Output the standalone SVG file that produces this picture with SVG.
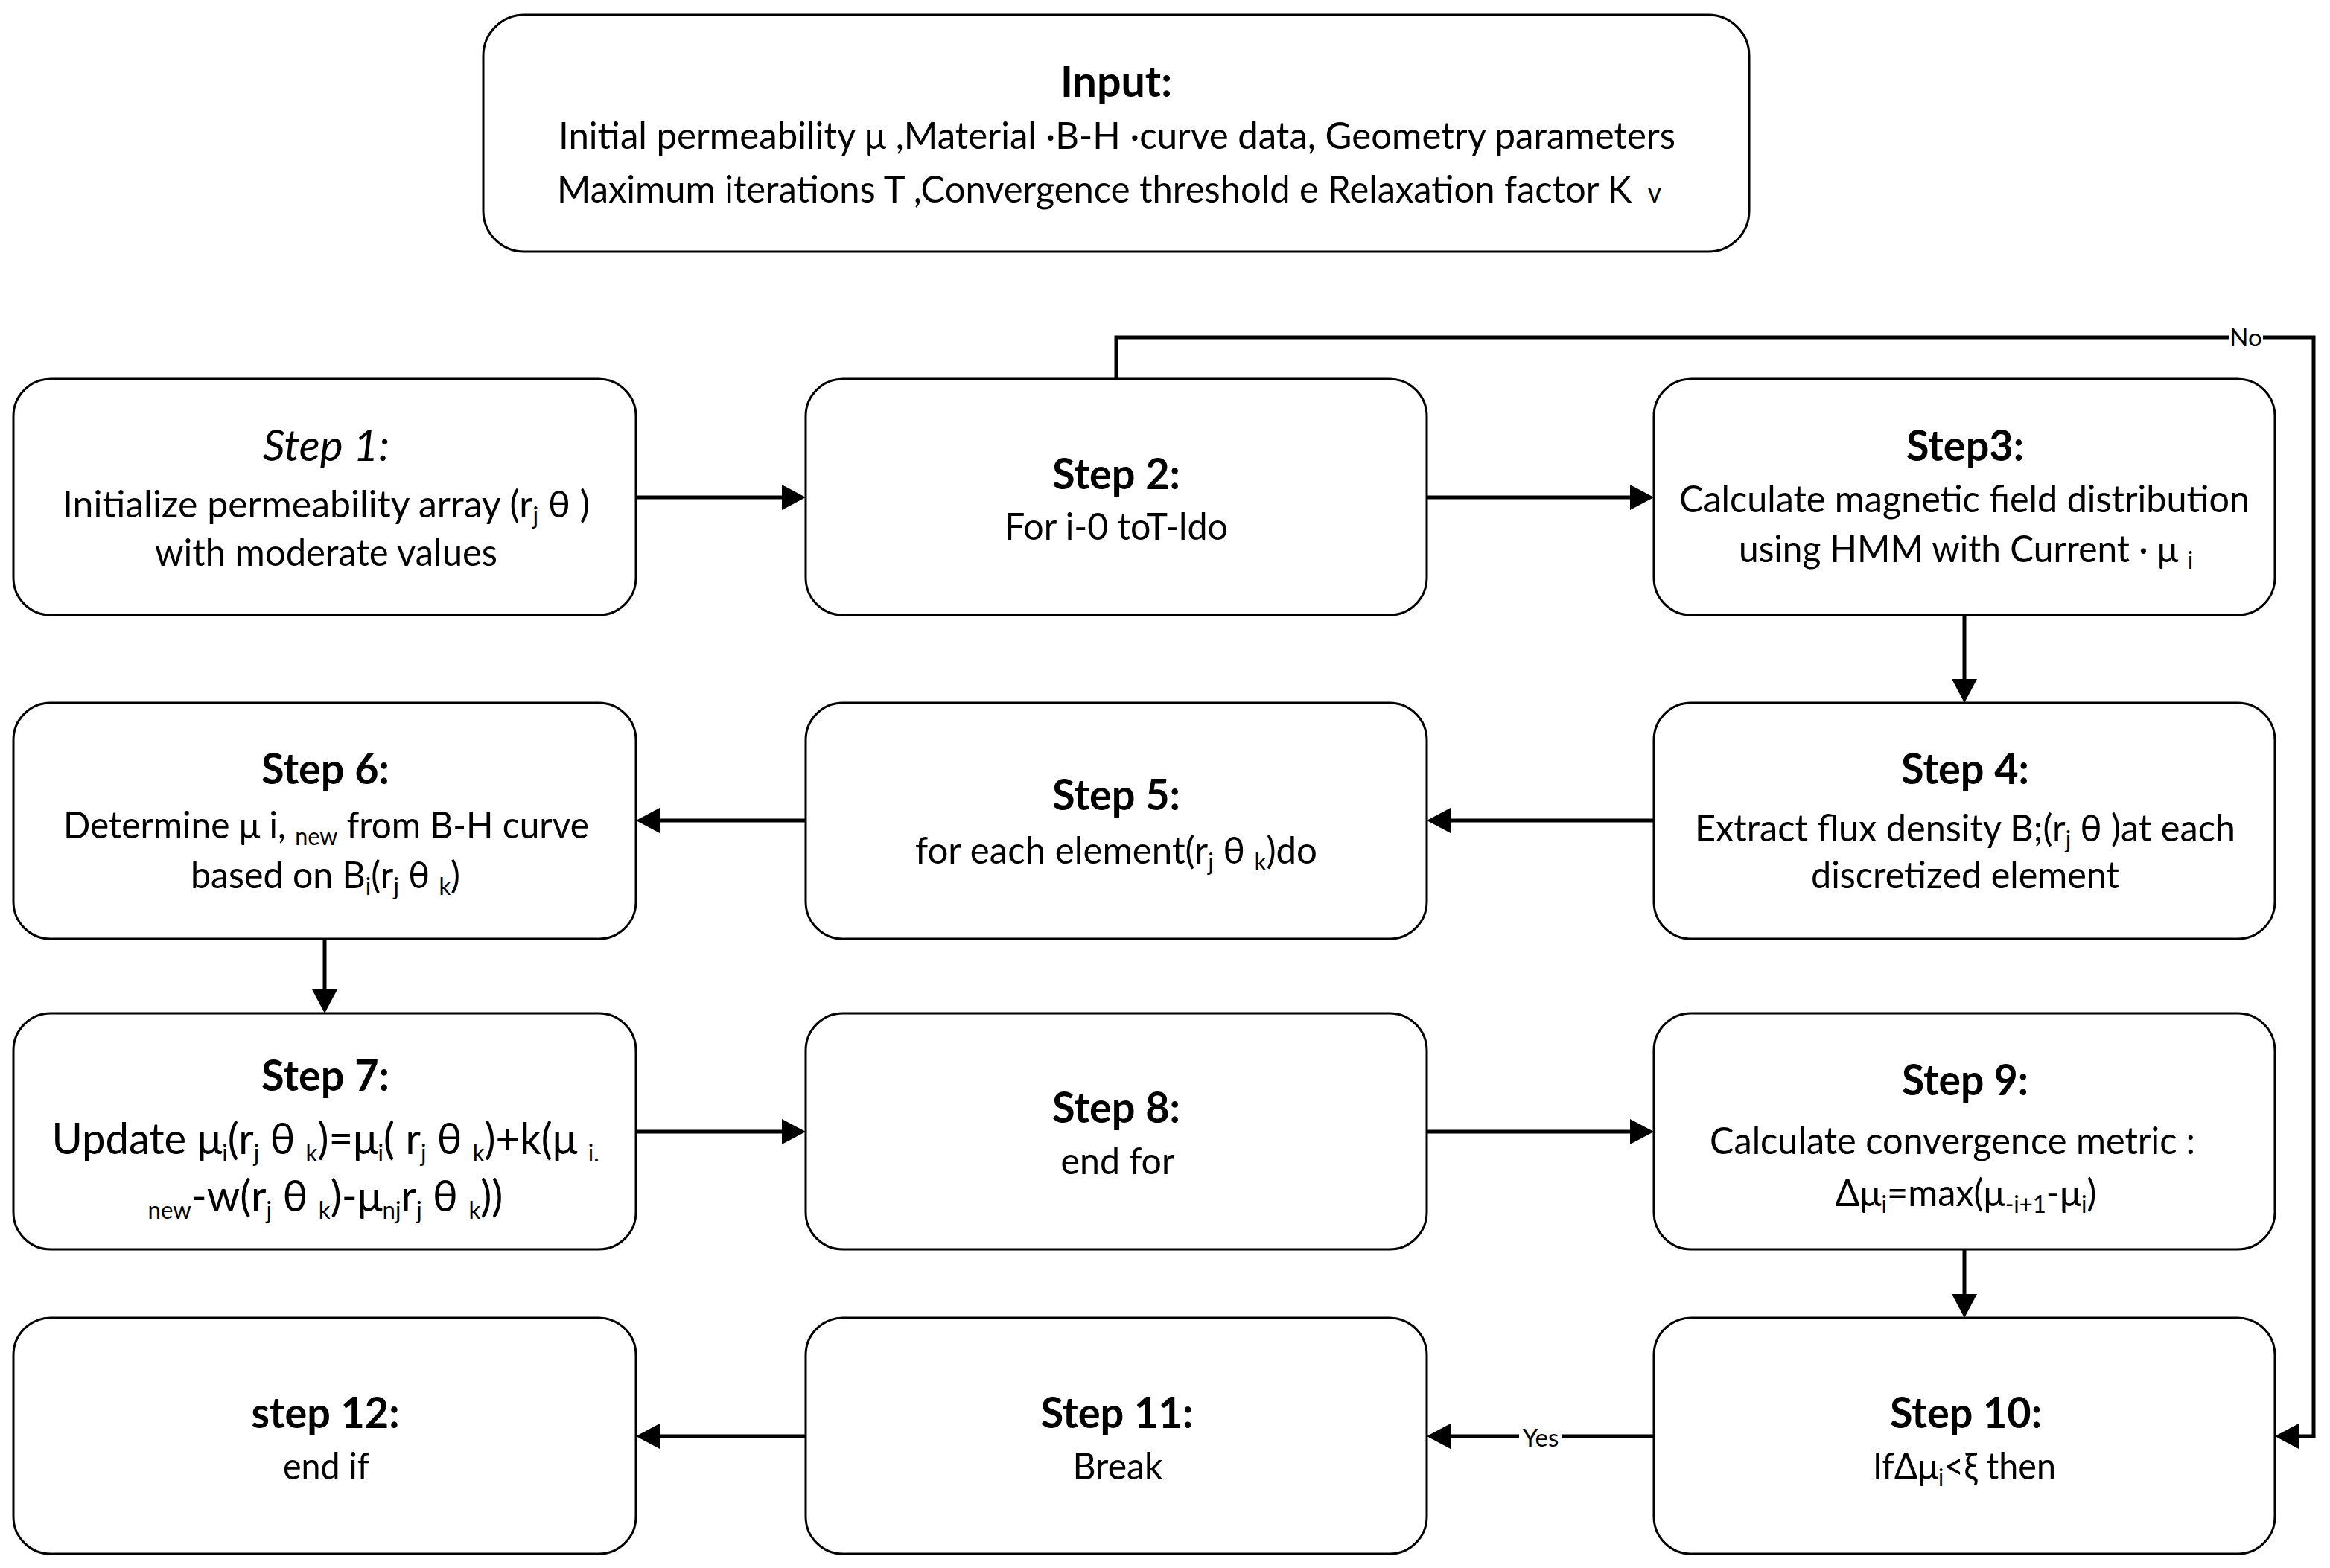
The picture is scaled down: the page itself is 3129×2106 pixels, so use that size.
<svg xmlns="http://www.w3.org/2000/svg" width="3129" height="2106" viewBox="0 0 3129 2106">
<style>
.box{fill:#fff;stroke:#000;stroke-width:3}
text{font-family:Lato,"Liberation Sans",sans-serif;fill:#000;text-anchor:middle}
.t{font-size:58px;font-weight:700}
.ti{font-size:58px;font-style:italic}
.b{font-size:50px}
.bb{font-size:58px}
.s{font-size:32px}
.lbl{font-size:33px}
.conn{fill:none;stroke:#000;stroke-width:5;marker-end:url(#ah)}
.lblbg{fill:#fff}
</style>
<defs>
<marker id="ah" markerUnits="userSpaceOnUse" markerWidth="34" markerHeight="36" refX="21" refY="17" orient="auto">
<path d="M0,0 L32,17 L0,34 Z" fill="#000"/>
</marker>
</defs>
<rect width="3129" height="2106" fill="#fff"/>

<g id="connectors">
<path class="conn" d="M854,668 H1071"/>
<path class="conn" d="M1916,668 H2210"/>
<path class="conn" d="M2638,826 V933"/>
<path class="conn" d="M2221,1102 H1927"/>
<path class="conn" d="M1082,1102 H865"/>
<path class="conn" d="M436,1261 V1350"/>
<path class="conn" d="M854,1520 H1071"/>
<path class="conn" d="M1916,1520 H2210"/>
<path class="conn" d="M2638,1678 V1759"/>
<path class="conn" d="M2221,1929 H1927"/>
<path class="conn" d="M1082,1929 H865"/>
<path class="conn" d="M1499,509 V453 H3107 V1929 H3066"/>
<rect class="lblbg" x="2993" y="436" width="46" height="34"/>
<text class="lbl" x="3016" y="465">No</text>
<rect class="lblbg" x="2040" y="1912" width="58" height="36"/>
<text class="lbl" x="2069" y="1943">Yes</text>
</g>

<g id="input">
<rect class="box" x="649" y="20" width="1700" height="318" rx="55"/>
<text class="t" x="1499" y="130" textLength="150" lengthAdjust="spacingAndGlyphs">Input:</text>
<text class="b" x="1500" y="200" textLength="1500" lengthAdjust="spacingAndGlyphs">Initial permeability μ ,Material ·B-H ·curve data, Geometry parameters</text>
<text class="b" x="748" y="272" style="text-anchor:start" textLength="1483" lengthAdjust="spacingAndGlyphs">Maximum iterations T ,Convergence threshold e Relaxation factor K<tspan font-size="36" dx="22">v</tspan></text>
</g>

<g id="step1">
<rect class="box" x="18" y="509" width="836" height="317" rx="50"/>
<text class="ti" x="438" y="619" textLength="170" lengthAdjust="spacingAndGlyphs">Step 1:</text>
<text class="b" x="438" y="695" textLength="708" lengthAdjust="spacingAndGlyphs">Initialize permeability array (r<tspan class="s" dy="9">j</tspan><tspan dy="-9"> θ )</tspan></text>
<text class="b" x="438" y="760" textLength="460" lengthAdjust="spacingAndGlyphs">with moderate values</text>
</g>

<g id="step2">
<rect class="box" x="1082" y="509" width="834" height="317" rx="50"/>
<text class="t" x="1499" y="657" textLength="172" lengthAdjust="spacingAndGlyphs">Step 2:</text>
<text class="b" x="1499" y="725" textLength="300" lengthAdjust="spacingAndGlyphs">For i-0 toT-ldo</text>
</g>

<g id="step3">
<rect class="box" x="2221" y="509" width="834" height="317" rx="50"/>
<text class="t" x="2639" y="619" textLength="158" lengthAdjust="spacingAndGlyphs">Step3:</text>
<text class="b" x="2638" y="688" textLength="766" lengthAdjust="spacingAndGlyphs">Calculate magnetic field distribution</text>
<text class="b" x="2640" y="755" textLength="610" lengthAdjust="spacingAndGlyphs">using HMM with Current · μ <tspan class="s" dy="9">i</tspan></text>
</g>

<g id="step4">
<rect class="box" x="2221" y="944" width="834" height="317" rx="50"/>
<text class="t" x="2639" y="1053" textLength="172" lengthAdjust="spacingAndGlyphs">Step 4:</text>
<text class="b" x="2639" y="1130" textLength="726" lengthAdjust="spacingAndGlyphs">Extract flux density B;(r<tspan class="s" dy="9">j</tspan><tspan dy="-9"> θ )at each</tspan></text>
<text class="b" x="2639" y="1193" textLength="414" lengthAdjust="spacingAndGlyphs">discretized element</text>
</g>

<g id="step5">
<rect class="box" x="1082" y="944" width="834" height="317" rx="50"/>
<text class="t" x="1499" y="1088" textLength="172" lengthAdjust="spacingAndGlyphs">Step 5:</text>
<text class="b" x="1499" y="1160" textLength="540" lengthAdjust="spacingAndGlyphs">for each element(r<tspan class="s" dy="9">j</tspan><tspan dy="-9"> θ </tspan><tspan class="s" dy="9">k</tspan><tspan dy="-9">)do</tspan></text>
</g>

<g id="step6">
<rect class="box" x="18" y="944" width="836" height="317" rx="50"/>
<text class="t" x="437" y="1053" textLength="172" lengthAdjust="spacingAndGlyphs">Step 6:</text>
<text class="b" x="438" y="1126" textLength="706" lengthAdjust="spacingAndGlyphs">Determine μ i, <tspan class="s" dy="9">new</tspan><tspan dy="-9"> from B-H curve</tspan></text>
<text class="b" x="437" y="1193" textLength="362" lengthAdjust="spacingAndGlyphs">based on B<tspan class="s" dy="9">i</tspan><tspan dy="-9">(r</tspan><tspan class="s" dy="9">j</tspan><tspan dy="-9"> θ </tspan><tspan class="s" dy="9">k</tspan><tspan dy="-9">)</tspan></text>
</g>

<g id="step7">
<rect class="box" x="18" y="1361" width="836" height="317" rx="50"/>
<text class="t" x="437" y="1465" textLength="172" lengthAdjust="spacingAndGlyphs">Step 7:</text>
<text class="bb" x="437" y="1550" textLength="735" lengthAdjust="spacingAndGlyphs">Update μ<tspan class="s" dy="10">i</tspan><tspan dy="-10">(r</tspan><tspan class="s" dy="10">j</tspan><tspan dy="-10"> θ </tspan><tspan class="s" dy="10">k</tspan><tspan dy="-10">)=μ</tspan><tspan class="s" dy="10">i</tspan><tspan dy="-10">( r</tspan><tspan class="s" dy="10">j</tspan><tspan dy="-10"> θ </tspan><tspan class="s" dy="10">k</tspan><tspan dy="-10">)+k(μ </tspan><tspan class="s" dy="10">i.</tspan></text>
<text class="bb" x="437" y="1627" textLength="477" lengthAdjust="spacingAndGlyphs"><tspan class="s" dy="10">new</tspan><tspan dy="-10">-w(r</tspan><tspan class="s" dy="10">j</tspan><tspan dy="-10"> θ </tspan><tspan class="s" dy="10">k</tspan><tspan dy="-10">)-μ</tspan><tspan class="s" dy="10">nj</tspan><tspan dy="-10">r</tspan><tspan class="s" dy="10">j</tspan><tspan dy="-10"> θ </tspan><tspan class="s" dy="10">k</tspan><tspan dy="-10">))</tspan></text>
</g>

<g id="step8">
<rect class="box" x="1082" y="1361" width="834" height="317" rx="50"/>
<text class="t" x="1499" y="1508" textLength="172" lengthAdjust="spacingAndGlyphs">Step 8:</text>
<text class="b" x="1501" y="1577" textLength="153" lengthAdjust="spacingAndGlyphs">end for</text>
</g>

<g id="step9">
<rect class="box" x="2221" y="1361" width="834" height="317" rx="50"/>
<text class="t" x="2639" y="1471" textLength="170" lengthAdjust="spacingAndGlyphs">Step 9:</text>
<text class="b" x="2622" y="1550" textLength="652" lengthAdjust="spacingAndGlyphs">Calculate convergence metric :</text>
<text class="b" x="2640" y="1620" textLength="351" lengthAdjust="spacingAndGlyphs">Δμ<tspan class="s" dy="9">i</tspan><tspan dy="-9">=max(μ</tspan><tspan class="s" dy="9">-i+1</tspan><tspan dy="-9">-μ</tspan><tspan class="s" dy="9">i</tspan><tspan dy="-9">)</tspan></text>
</g>

<g id="step10">
<rect class="box" x="2221" y="1770" width="834" height="317" rx="50"/>
<text class="t" x="2640" y="1918" textLength="204" lengthAdjust="spacingAndGlyphs">Step 10:</text>
<text class="b" x="2638" y="1987" textLength="246" lengthAdjust="spacingAndGlyphs">IfΔμ<tspan class="s" dy="9">i</tspan><tspan dy="-9">&lt;ξ then</tspan></text>
</g>

<g id="step11">
<rect class="box" x="1082" y="1770" width="834" height="317" rx="50"/>
<text class="t" x="1500" y="1918" textLength="205" lengthAdjust="spacingAndGlyphs">Step 11:</text>
<text class="b" x="1501" y="1987" textLength="121" lengthAdjust="spacingAndGlyphs">Break</text>
</g>

<g id="step12">
<rect class="box" x="18" y="1770" width="836" height="317" rx="50"/>
<text class="t" x="437" y="1918" textLength="199" lengthAdjust="spacingAndGlyphs">step 12:</text>
<text class="b" x="438" y="1987" textLength="116" lengthAdjust="spacingAndGlyphs">end if</text>
</g>
</svg>
